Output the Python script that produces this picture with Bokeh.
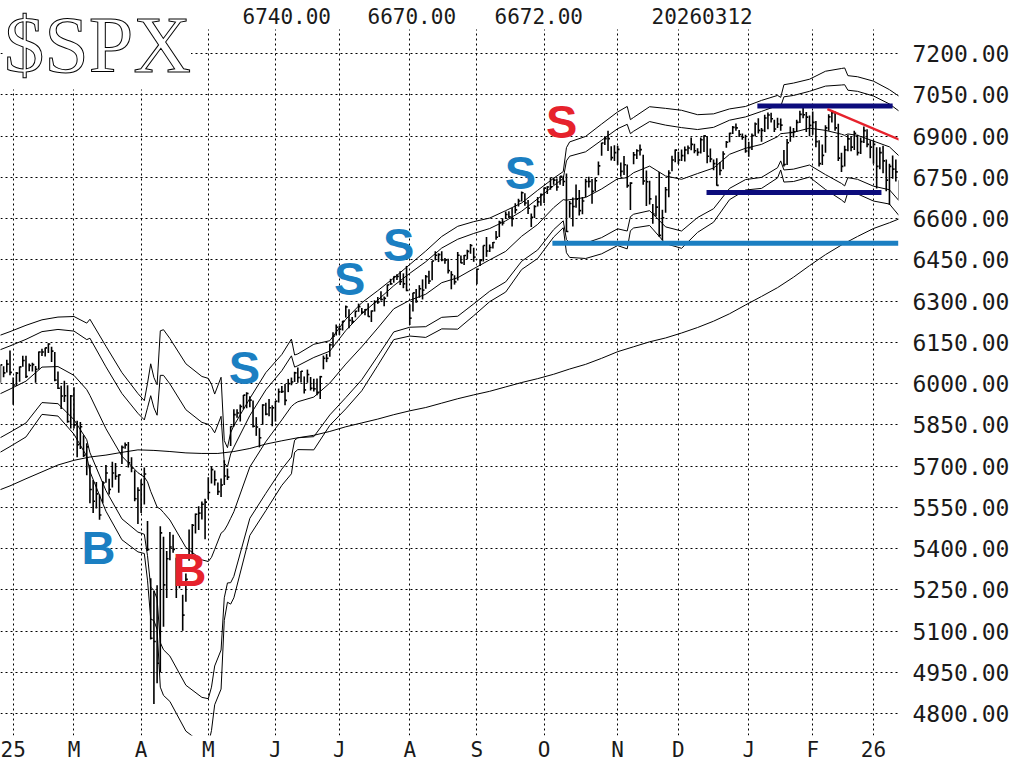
import numpy as np
from bokeh.plotting import figure
from bokeh.models import Range1d, FixedTicker, Label, PrintfTickFormatter, BoxAnnotation
from bokeh.embed import file_html
from bokeh.resources import INLINE
from bokeh.core.properties import value

# ---------------- daily bars (trading-day index 0 = 2025-02-03) ----------------
C_2501 = [6012, 6068, 6039, 6071, 6041]
H_2501 = [6018, 6069, 6063, 6087, 6120]
L_2501 = [5962, 6003, 6023, 6040, 6030]

C_2502 = [5995, 6038, 6061, 6084, 6026, 6066, 6069, 6052, 6115, 6115, 6130, 6144, 6118, 6013, 5983, 5955, 5956, 5862, 5955]
H_2502 = [6022, 6042, 6062, 6101, 6101, 6073, 6076, 6064, 6117, 6127, 6130, 6147, 6134, 6115, 6044, 5992, 6010, 5994, 5959]
L_2502 = [5923, 5991, 6007, 6061, 6020, 6045, 6044, 6003, 6051, 6100, 6099, 6111, 6079, 6009, 5980, 5908, 5933, 5858, 5837]

C_2503 = [5850, 5778, 5843, 5739, 5770, 5615, 5572, 5599, 5522, 5639, 5675, 5615, 5675, 5663, 5668, 5768, 5777, 5712, 5693, 5581, 5612]
H_2503 = [5987, 5865, 5860, 5812, 5783, 5705, 5649, 5642, 5597, 5646, 5704, 5654, 5716, 5711, 5670, 5775, 5786, 5788, 5732, 5685, 5623]
L_2503 = [5837, 5732, 5762, 5733, 5667, 5565, 5529, 5546, 5505, 5565, 5639, 5597, 5622, 5650, 5603, 5708, 5763, 5695, 5678, 5572, 5489]

C_2504 = [5633, 5671, 5397, 5074, 5062, 4983, 5457, 5268, 5363, 5406, 5397, 5276, 5283, 5158, 5288, 5376, 5485, 5525, 5529, 5561, 5569]
H_2504 = [5651, 5695, 5500, 5292, 5246, 5267, 5481, 5443, 5391, 5460, 5450, 5367, 5329, 5232, 5309, 5469, 5489, 5528, 5554, 5571, 5581]
L_2504 = [5529, 5560, 5391, 5069, 4835, 4910, 4950, 5116, 5220, 5358, 5385, 5220, 5256, 5101, 5207, 5356, 5371, 5455, 5468, 5506, 5434]

C_2505 = [5604, 5687, 5650, 5607, 5631, 5664, 5660, 5844, 5887, 5893, 5917, 5958, 5964, 5940, 5845, 5842, 5803, 5922, 5889, 5912, 5912]
H_2505 = [5659, 5700, 5684, 5640, 5655, 5721, 5691, 5845, 5907, 5907, 5924, 5959, 5969, 5954, 5939, 5878, 5838, 5925, 5930, 5944, 5921]
L_2505 = [5579, 5637, 5629, 5595, 5588, 5631, 5649, 5773, 5844, 5876, 5862, 5907, 5910, 5914, 5840, 5810, 5768, 5850, 5885, 5881, 5845]

C_2506 = [5936, 5970, 5971, 5939, 6000, 6006, 6039, 6022, 6045, 5977, 6033, 5983, 5981, 5968, 6025, 6092, 6092, 6141, 6173, 6205]
H_2506 = [5937, 5982, 5991, 5999, 6017, 6022, 6043, 6059, 6046, 6026, 6051, 6024, 6018, 6019, 6028, 6102, 6108, 6146, 6187, 6215]
L_2506 = [5862, 5931, 5966, 5921, 5969, 5994, 6006, 6003, 6004, 5964, 6003, 5975, 5971, 5958, 5944, 6052, 6078, 6098, 6132, 6175]

C_2507 = [6198, 6227, 6279, 6230, 6226, 6263, 6280, 6260, 6269, 6244, 6264, 6297, 6297, 6306, 6310, 6359, 6363, 6389, 6390, 6371, 6363, 6339]
H_2507 = [6211, 6228, 6284, 6270, 6242, 6265, 6291, 6275, 6271, 6292, 6266, 6303, 6315, 6336, 6317, 6360, 6381, 6390, 6398, 6409, 6401, 6428]
L_2507 = [6177, 6193, 6240, 6201, 6217, 6241, 6261, 6253, 6249, 6243, 6224, 6262, 6290, 6302, 6281, 6316, 6359, 6367, 6377, 6359, 6347, 6336]

C_2508 = [6238, 6330, 6299, 6345, 6340, 6389, 6373, 6446, 6467, 6469, 6450, 6449, 6411, 6396, 6370, 6467, 6439, 6466, 6481, 6502, 6460]
H_2508 = [6288, 6330, 6344, 6358, 6379, 6395, 6410, 6446, 6481, 6474, 6481, 6457, 6454, 6409, 6394, 6479, 6466, 6468, 6487, 6508, 6494]
L_2508 = [6213, 6262, 6294, 6312, 6306, 6345, 6362, 6376, 6448, 6442, 6445, 6436, 6400, 6343, 6360, 6375, 6438, 6431, 6453, 6472, 6443]

C_2509 = [6416, 6448, 6502, 6482, 6495, 6513, 6532, 6587, 6584, 6615, 6607, 6600, 6632, 6664, 6694, 6657, 6638, 6605, 6644, 6661, 6688]
H_2509 = [6416, 6453, 6502, 6533, 6506, 6515, 6555, 6592, 6601, 6626, 6627, 6639, 6656, 6672, 6699, 6692, 6668, 6619, 6649, 6679, 6691]
L_2509 = [6361, 6428, 6444, 6461, 6479, 6491, 6523, 6533, 6575, 6599, 6602, 6571, 6619, 6644, 6662, 6647, 6617, 6570, 6602, 6644, 6647]

C_2510 = [6711, 6715, 6716, 6740, 6715, 6754, 6735, 6553, 6655, 6644, 6671, 6629, 6664, 6735, 6735, 6699, 6738, 6792, 6875, 6891, 6891, 6822, 6840]
H_2510 = [6713, 6718, 6750, 6749, 6746, 6754, 6756, 6764, 6664, 6677, 6724, 6704, 6679, 6745, 6752, 6744, 6750, 6808, 6876, 6900, 6920, 6863, 6867]
L_2510 = [6657, 6690, 6705, 6723, 6701, 6723, 6719, 6551, 6603, 6571, 6640, 6611, 6616, 6679, 6713, 6654, 6699, 6758, 6829, 6868, 6846, 6811, 6810]

C_2511 = [6852, 6772, 6796, 6720, 6729, 6832, 6847, 6851, 6737, 6734, 6672, 6617, 6642, 6539, 6603, 6705, 6766, 6813, 6849]
H_2511 = [6865, 6804, 6828, 6797, 6732, 6842, 6852, 6870, 6832, 6775, 6738, 6653, 6684, 6770, 6632, 6715, 6776, 6829, 6851]
L_2511 = [6795, 6752, 6759, 6712, 6631, 6798, 6817, 6830, 6723, 6646, 6651, 6581, 6608, 6534, 6521, 6621, 6678, 6772, 6805]

C_2512 = [6813, 6829, 6850, 6857, 6870, 6847, 6841, 6887, 6901, 6827, 6817, 6800, 6721, 6775, 6835, 6878, 6910, 6932, 6930, 6906, 6896, 6846]
H_2512 = [6843, 6851, 6862, 6866, 6895, 6872, 6856, 6895, 6903, 6900, 6855, 6815, 6820, 6806, 6845, 6882, 6912, 6937, 6946, 6922, 6910, 6905]
L_2512 = [6799, 6810, 6808, 6834, 6849, 6838, 6829, 6837, 6842, 6801, 6805, 6776, 6720, 6758, 6780, 6858, 6878, 6908, 6920, 6897, 6887, 6840]

C_2601 = [6858, 6902, 6944, 6921, 6921, 6966, 6977, 6963, 6926, 6944, 6940, 6797, 6876, 6913, 6916, 6950, 6979, 6978, 6969, 6939]
H_2601 = [6880, 6910, 6950, 6965, 6930, 6978, 6986, 6985, 6960, 6967, 6964, 6850, 6890, 6935, 6930, 6960, 6992, 7002, 6988, 6975]
L_2601 = [6825, 6850, 6900, 6910, 6880, 6915, 6925, 6950, 6915, 6930, 6920, 6790, 6795, 6880, 6895, 6915, 6948, 6965, 6915, 6900]

C_2602 = [6950, 6880, 6800, 6830, 6930, 6970, 6985, 6930, 6820, 6790, 6850, 6890, 6860, 6910, 6840, 6880, 6920, 6870, 6860]
H_2602 = [6990, 6955, 6885, 6870, 6940, 6980, 6995, 6990, 6945, 6840, 6865, 6905, 6900, 6920, 6905, 6895, 6935, 6925, 6885]
L_2602 = [6905, 6860, 6790, 6795, 6840, 6920, 6950, 6920, 6810, 6770, 6790, 6845, 6845, 6850, 6830, 6835, 6875, 6860, 6820]

C_2603 = [6870, 6790, 6840, 6810, 6740, 6790, 6780, 6770, 6672]
H_2603 = [6885, 6860, 6860, 6865, 6815, 6800, 6830, 6815, 6740]
L_2603 = [6800, 6710, 6780, 6765, 6700, 6650, 6745, 6735, 6670]

# ---------------- bands (20-day average with 3- and 4-sigma bands) ----------------
BAND_IDX = [-5, -1, 4, 9, 14, 19, 23, 24, 29, 34, 39, 41, 42, 43, 44, 45, 46, 47, 49, 54,
            59, 61, 62, 63, 65, 66, 67, 68, 69, 74, 79, 84, 87, 88, 89, 94, 99, 104, 109, 114,
            119, 124, 129, 134, 139, 144, 149, 154, 159, 164, 169, 172, 173, 174, 179, 184, 189, 192, 193, 194,
            199, 204, 209, 214, 219, 224, 229, 234, 239, 240, 241, 244, 249, 254, 259, 260, 261, 264, 269, 274, 277]
MA20 = [5958, 5980, 6009, 6060, 6062, 6030, 5978, 5957, 5836, 5736, 5676, 5660, 5643, 5608, 5580, 5551, 5544, 5531, 5504, 5404,
        5359, 5353, 5368, 5397, 5456, 5466, 5486, 5510, 5534, 5697, 5789, 5868, 5917, 5927, 5934, 5951, 6002, 6071, 6134, 6202,
        6272, 6303, 6325, 6367, 6385, 6418, 6450, 6481, 6536, 6579, 6640, 6669, 6667, 6669, 6677, 6708, 6745, 6749, 6758, 6767,
        6791, 6755, 6743, 6764, 6784, 6834, 6856, 6870, 6898, 6909, 6910, 6914, 6929, 6921, 6907, 6903, 6908, 6903, 6882, 6861, 6828]
UPPER4 = [6172, 6189, 6212, 6232, 6242, 6244, 6220, 6234, 6136, 6040, 5964, 5938, 6001, 6072, 6022, 5996, 6192, 6196, 6164, 6072,
          6026, 6019, 5998, 5962, 6023, 5793, 5767, 5822, 5847, 5946, 6040, 6106, 6162, 6104, 6108, 6143, 6156, 6234, 6294, 6338,
          6384, 6433, 6482, 6535, 6572, 6589, 6602, 6629, 6657, 6703, 6747, 6771, 6858, 6879, 6899, 6944, 6988, 7008, 6960, 6968,
          7007, 7001, 6994, 6978, 6981, 6999, 7008, 7030, 7048, 7041, 7087, 7093, 7107, 7136, 7146, 7148, 7120, 7116, 7100, 7069, 7045]
UPPER3 = [6119, 6137, 6161, 6189, 6197, 6191, 6160, 6165, 6061, 5964, 5892, 5868, 5912, 5956, 5912, 5885, 6030, 6030, 5999, 5905,
          5859, 5852, 5840, 5821, 5881, 5711, 5697, 5744, 5769, 5884, 5977, 6047, 6101, 6060, 6065, 6095, 6118, 6193, 6254, 6304,
          6356, 6401, 6443, 6493, 6525, 6546, 6564, 6592, 6627, 6672, 6720, 6746, 6810, 6827, 6843, 6885, 6927, 6943, 6909, 6918,
          6953, 6940, 6931, 6924, 6932, 6958, 6970, 6990, 7011, 7008, 7043, 7048, 7063, 7082, 7086, 7087, 7067, 7063, 7046, 7017, 6991]
LOWER3 = [5797, 5823, 5857, 5931, 5927, 5869, 5796, 5749, 5611, 5508, 5460, 5452, 5374, 5260, 5248, 5217, 5058, 5032, 5009, 4903,
          4859, 4854, 4896, 4973, 5031, 5221, 5275, 5276, 5299, 5510, 5601, 5689, 5733, 5794, 5803, 5807, 5886, 5949, 6014, 6100,
          6188, 6205, 6207, 6241, 6245, 6290, 6336, 6370, 6445, 6486, 6560, 6592, 6524, 6511, 6511, 6531, 6563, 6555, 6607, 6616,
          6629, 6570, 6555, 6604, 6636, 6710, 6742, 6750, 6785, 6810, 6777, 6780, 6795, 6760, 6728, 6719, 6749, 6743, 6718, 6705, 6665]
LOWER4 = [5744, 5771, 5806, 5888, 5882, 5816, 5736, 5680, 5536, 5432, 5388, 5382, 5285, 5144, 5138, 5106, 4896, 4866, 4844, 4736,
          4692, 4687, 4738, 4832, 4889, 5139, 5205, 5198, 5221, 5448, 5538, 5630, 5672, 5750, 5760, 5759, 5848, 5908, 5974, 6066,
          6160, 6173, 6168, 6199, 6198, 6247, 6298, 6333, 6415, 6455, 6533, 6567, 6476, 6459, 6455, 6472, 6502, 6490, 6556, 6566,
          6575, 6509, 6492, 6550, 6587, 6669, 6704, 6710, 6748, 6777, 6733, 6735, 6751, 6706, 6668, 6658, 6696, 6690, 6664, 6653, 6611]

# ---------------- 200-day average ----------------
MA200_IDX = [-5, -1, 4, 9, 14, 19, 24, 29, 34, 39, 44, 49, 54, 59, 64, 69, 74, 79, 84, 89, 94, 99, 104, 109, 114,
             119, 124, 129, 134, 139, 144, 149, 154, 159, 164, 169, 174, 179, 184, 189, 194, 199, 204, 209, 214,
             219, 224, 229, 234, 239, 244, 249, 254, 259, 264, 269, 274, 277]
MA200 = [5610, 5628, 5654, 5679, 5704, 5721, 5733, 5740, 5750, 5759, 5757, 5753, 5748, 5746, 5746, 5753, 5764, 5780, 5792,
         5803, 5812, 5826, 5843, 5857, 5871, 5887, 5901, 5913, 5929, 5945, 5959, 5972, 5988, 6004, 6018, 6034, 6053, 6070,
         6092, 6116, 6134, 6152, 6166, 6184, 6204, 6227, 6254, 6286, 6317, 6349, 6387, 6429, 6469, 6504, 6535, 6564, 6585, 6599]

# ---------------- drawn support / resistance lines ----------------
SUPPORT_IDX = [168.6, 276.8]
SUPPORT_LEVEL = [6510, 6510]
RANGE_TOP_IDX = [232.7, 275.0]
RANGE_TOP = [7010, 7010]
RANGE_BOT_IDX = [216.8, 271.5]
RANGE_BOT = [6695, 6695]
TREND_IDX = [254.6, 281.2]
TREND = [6998, 6867]

# ---------------- buy / sell signals ----------------
SIG_TEXT = ["B", "B", "S", "S", "S", "S", "S"]
SIG_IDX = [26.7, 55.1, 72.3, 105.2, 120.5, 158.6, 171.5]
SIG_PRICE = [5404, 5324, 6057, 6381, 6505, 6766, 6953]
SIG_KIND = ["blue", "red", "blue", "blue", "blue", "blue", "red"]

# ---------------- axes / texts ----------------
MONTH_DAYS = [19, 21, 21, 21, 20, 22, 21, 21, 23, 19, 22, 20, 19]
MONTH_LABELS = ["25", "M", "A", "M", "J", "J", "A", "S", "O", "N", "D", "J", "F", "26"]
Y_TICKS = [4800, 4950, 5100, 5250, 5400, 5550, 5700, 5850, 6000, 6150, 6300, 6450, 6600, 6750, 6900, 7050, 7200]
HEADER_VALUES = ["6740.00", "6670.00", "6672.00"]
HEADER_DATE = "20260312"
TITLE = "$SPX"

BLUE = "#1b7fc2"
RED = "#e6222c"
NAVY = "#0c0c7c"

close = np.array(C_2501 + C_2502 + C_2503 + C_2504 + C_2505 + C_2506 + C_2507 + C_2508 + C_2509 + C_2510 + C_2511 + C_2512 + C_2601 + C_2602 + C_2603, dtype=float)
high = np.array(H_2501 + H_2502 + H_2503 + H_2504 + H_2505 + H_2506 + H_2507 + H_2508 + H_2509 + H_2510 + H_2511 + H_2512 + H_2601 + H_2602 + H_2603, dtype=float)
low = np.array(L_2501 + L_2502 + L_2503 + L_2504 + L_2505 + L_2506 + L_2507 + L_2508 + L_2509 + L_2510 + L_2511 + L_2512 + L_2601 + L_2602 + L_2603, dtype=float)
idx = np.arange(-len(C_2501), -len(C_2501) + len(close))

tick_idx = [0] + list(np.cumsum(MONTH_DAYS).astype(int))

GRID_TOP = 7288.1   # where the dotted grid starts at the top of the chart

p = figure(width=1020, height=764,
           x_range=Range1d(-3.971, 276.83), y_range=Range1d(4720.2, 7393.3),
           y_axis_location="right", toolbar_location=None, output_backend="svg",
           min_border_left=0, min_border_right=122, min_border_top=0, min_border_bottom=27)
p.outline_line_color = None
p.background_fill_color = "white"
p.border_fill_color = "white"

# grid
p.xaxis.ticker = FixedTicker(ticks=tick_idx)
p.yaxis.ticker = FixedTicker(ticks=Y_TICKS)
for g in (p.xgrid, p.ygrid):
    g.grid_line_color = "black"
    g.grid_line_dash = "2 3"
    g.grid_line_width = 1

# x axis
p.xaxis.major_label_overrides = {t: lab for t, lab in zip(tick_idx, MONTH_LABELS)}
p.xaxis.axis_line_color = None
p.xaxis.major_tick_line_color = None
p.xaxis.minor_tick_line_color = None
p.xaxis.major_tick_out = 0
p.xaxis.major_label_standoff = 2
p.xaxis.major_label_text_font = "DejaVu Sans Mono"
p.xaxis.major_label_text_font_size = "21px"
p.xaxis.major_label_text_color = "#1a1a1a"

# y axis
p.yaxis.formatter = PrintfTickFormatter(format="%.2f")
p.yaxis.axis_line_color = None
p.yaxis.major_tick_line_color = None
p.yaxis.minor_tick_line_color = None
p.yaxis.major_tick_out = 0
p.yaxis.major_label_standoff = 14
p.yaxis.major_label_text_font = "DejaVu Sans Mono"
p.yaxis.major_label_text_font_size = "23px"
p.yaxis.major_label_text_color = "#1a1a1a"

# 200-day average and bands
p.line(MA200_IDX, MA200, line_color="black", line_width=1)
for series in (UPPER4, UPPER3, MA20, LOWER3, LOWER4):
    p.line(BAND_IDX, series, line_color="black", line_width=1)

# price bars
p.segment(x0=idx, y0=low, x1=idx, y1=high, line_color="black", line_width=1.6)
p.segment(x0=idx, y0=close, x1=idx + 0.6, y1=close, line_color="black", line_width=1.6)

# support / resistance
p.line(SUPPORT_IDX, SUPPORT_LEVEL, line_color=BLUE, line_width=5)
p.line(RANGE_TOP_IDX, RANGE_TOP, line_color=NAVY, line_width=5)
p.line(RANGE_BOT_IDX, RANGE_BOT, line_color=NAVY, line_width=5)
p.line(TREND_IDX, TREND, line_color=RED, line_width=2.5)

# signals
sig_colors = [BLUE if k == "blue" else RED for k in SIG_KIND]
p.text(x=SIG_IDX, y=SIG_PRICE, text=SIG_TEXT, text_color=sig_colors,
       text_font=value("Liberation Sans"), text_font_style="bold", text_font_size="47px",
       text_align="center", text_baseline="middle")

# blank strip above the grid (header area)
p.add_layout(BoxAnnotation(bottom=GRID_TOP, fill_color="white", fill_alpha=1.0, line_color=None))

# header texts
for xpos, txt in zip([71.7, 110.8, 150.5, 199.6], HEADER_VALUES + [HEADER_DATE]):
    p.add_layout(Label(x=xpos, y=7336, text=txt, text_font="DejaVu Sans Mono", text_font_size="21px",
                       text_color="#1a1a1a", text_align="left", text_baseline="middle"))

p.add_layout(Label(x=55.6, y=7230, text=TITLE, text_font="Liberation Serif", text_font_size="80px",
                   text_color="white", text_outline_color="black", text_align="right",
                   text_baseline="middle", background_fill_color="white"))

open("out.html", "w").write(file_html(p, INLINE))
